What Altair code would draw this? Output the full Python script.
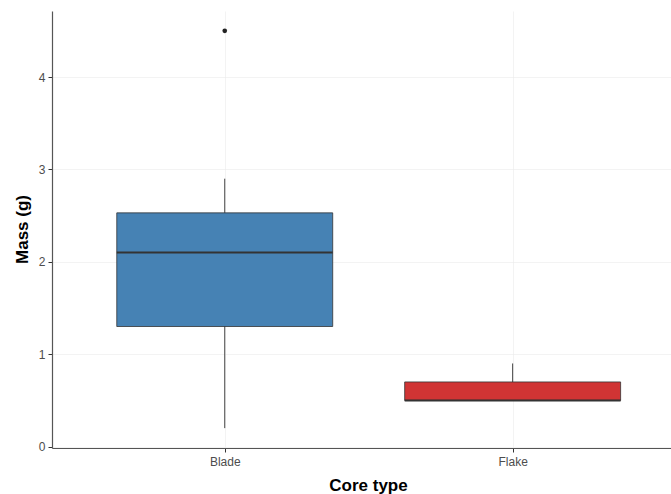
import altair as alt
import pandas as pd

# Summary statistics per core type (grams)
core_types = ["Blade", "Flake"]
positions = [1, 2]
whisker_low = [0.2, 0.5]
q1 = [1.3, 0.5]
median = [2.1, 0.5]
q3 = [2.53, 0.7]
whisker_high = [2.9, 0.9]
fill_colors = ["#4682B4", "#D03434"]

# Points beyond the whiskers
outlier_type = ["Blade"]
outlier_pos = [1]
outlier_mass = [4.5]

half_width = 0.375

boxes = pd.DataFrame({
    "type": core_types,
    "pos": positions,
    "low": whisker_low,
    "q1": q1,
    "median": median,
    "q3": q3,
    "high": whisker_high,
    "fill": fill_colors,
})
outliers = pd.DataFrame({"type": outlier_type, "pos": outlier_pos, "mass": outlier_mass})

x_scale = alt.Scale(domain=[0.4, 2.55], nice=False, zero=False)
y_scale = alt.Scale(domain=[-0.015, 4.715], nice=False, zero=False)

label_expr = "datum.value == 1 ? 'Blade' : datum.value == 2 ? 'Flake' : ''"

x_axis = alt.Axis(
    values=positions, labelExpr=label_expr, title="Core type",
    titleFontSize=17, titleFontWeight="bold", titleColor="black",
    titleX=316, titleY=37, titleBaseline="middle",
    labelFontSize=12, labelColor="#4D4D4D", labelPadding=4,
    tickColor="#333333", tickSize=4, domainColor="#555555", domainWidth=1.2,
    grid=True, gridColor="#EBEBEB", gridWidth=0.6,
)
y_axis = alt.Axis(
    values=[0, 1, 2, 3, 4], format="d", title="Mass (g)",
    titleFontSize=17, titleFontWeight="bold", titleColor="black",
    titleX=-30, titleY=218, titleAngle=270, titleBaseline="middle", titleAlign="center",
    labelFontSize=12, labelColor="#4D4D4D", labelPadding=3,
    tickColor="#333333", tickSize=4, domainColor="#555555", domainWidth=1.2,
    grid=True, gridColor="#EBEBEB", gridWidth=0.6,
)

base = alt.Chart(boxes)

whiskers = base.mark_rule(color="#444444", strokeWidth=1).encode(
    x=alt.X("pos:Q", scale=x_scale, axis=x_axis),
    y=alt.Y("low:Q", scale=y_scale, axis=y_axis),
    y2="high:Q",
)

box = base.transform_calculate(
    left=f"datum.pos - {half_width}", right=f"datum.pos + {half_width}"
).mark_bar(stroke="#333333", strokeWidth=0.8).encode(
    x=alt.X("left:Q", scale=x_scale),
    x2="right:Q",
    y=alt.Y("q1:Q", scale=y_scale),
    y2="q3:Q",
    fill=alt.Fill("fill:N", scale=None),
)

median_line = base.transform_calculate(
    left=f"datum.pos - {half_width}", right=f"datum.pos + {half_width}"
).mark_rule(color="#333333", strokeWidth=2).encode(
    x=alt.X("left:Q", scale=x_scale),
    x2="right:Q",
    y=alt.Y("median:Q", scale=y_scale),
)

points = alt.Chart(outliers).mark_circle(color="#222222", size=22, opacity=1).encode(
    x=alt.X("pos:Q", scale=x_scale),
    y=alt.Y("mass:Q", scale=y_scale),
)

chart = alt.layer(whiskers, box, median_line, points).properties(
    width=619, height=437,
    padding={"left": 52, "top": 11, "right": 0, "bottom": 46},
    autosize=alt.AutoSizeParams(type="none"),
).configure(
    font="Liberation Sans",
    background="white",
).configure_view(stroke=None)

chart.save("out.html", embed_options={"renderer": "svg", "actions": False})
